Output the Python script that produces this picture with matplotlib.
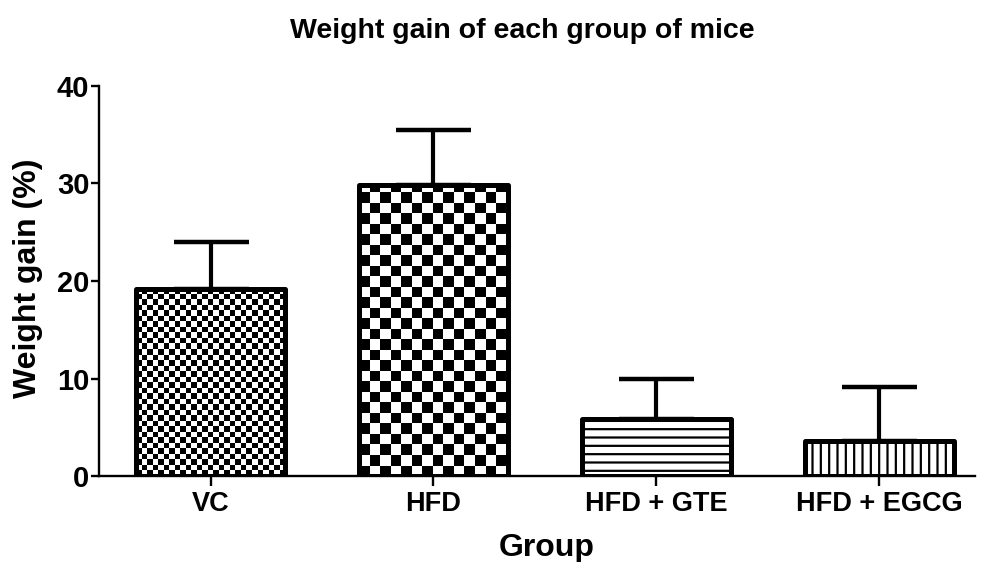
import numpy as np
import matplotlib
matplotlib.use("Agg")
import matplotlib.pyplot as plt

groups = ["VC", "HFD", "HFD + GTE", "HFD + EGCG"]
mean_gain = [19.2, 29.8, 5.8, 3.6]
sem_gain = [4.8, 5.7, 4.2, 5.5]
y_ticks = [0, 10, 20, 30, 40]

plt.rcParams["font.family"] = ["Liberation Sans", "DejaVu Sans"]
plt.rcParams["font.weight"] = "bold"
plt.rcParams["hatch.linewidth"] = 1.6

fig = plt.figure(figsize=(9.81, 5.62), dpi=100)
ax = fig.add_axes([0.101, 0.153, 0.893, 0.694])

x = np.arange(len(groups))
ax.set_xlim(-0.50, 3.43)
ax.set_ylim(0, 40)

bar_w = 0.67
edge_lw = 3.6

# white base bars
base = ax.bar(x, mean_gain, width=bar_w, color="white", edgecolor="none", zorder=2)


def checker_fill(bar, cell_px):
    x0, y0 = bar.get_x(), bar.get_y()
    w, h = bar.get_width(), bar.get_height()
    p0 = ax.transData.transform((x0, y0))
    p1 = ax.transData.transform((x0 + w, y0 + h))
    nx = int(np.ceil((p1[0] - p0[0]) / cell_px))
    ny = int(np.ceil((p1[1] - p0[1]) / cell_px))
    board = np.add.outer(np.arange(ny), np.arange(nx)) % 2
    top_right = ax.transData.inverted().transform(
        (p0[0] + nx * cell_px, p0[1] + ny * cell_px))
    im = ax.imshow(board, cmap="gray", vmin=0, vmax=1,
                   extent=(x0, top_right[0], y0, top_right[1]),
                   origin="lower", interpolation="nearest",
                   aspect="auto", zorder=2.5)
    im.set_clip_path(bar)


checker_fill(base[0], 5.5)
checker_fill(base[1], 10.5)

# line-hatched bars
ax.bar(x[2], mean_gain[2], width=bar_w, color="white", edgecolor="black",
       hatch="--", linewidth=0, zorder=2.6)
ax.bar(x[3], mean_gain[3], width=bar_w, color="white", edgecolor="black",
       hatch="||", linewidth=0, zorder=2.6)

# outlines
outlines = ax.bar(x, mean_gain, width=bar_w, color="none", edgecolor="black",
                  linewidth=edge_lw, zorder=3)
for p in outlines:
    p.set_joinstyle("round")

# upper error bars
ax.errorbar(x, mean_gain, yerr=[np.zeros(len(x)), sem_gain], fmt="none",
            ecolor="black", elinewidth=3.0, capsize=27, capthick=3.2, zorder=1.5)

ax.set_xlim(-0.50, 3.43)
ax.set_ylim(0, 40)

for side in ["top", "right"]:
    ax.spines[side].set_visible(False)
ax.spines["left"].set_linewidth(1.7)
ax.spines["bottom"].set_linewidth(1.7)

ax.set_yticks(y_ticks)
ax.set_xticks(x)
ax.set_xticklabels(groups)
ax.tick_params(axis="y", length=6, width=1.7, labelsize=21, pad=1)
ax.tick_params(axis="x", length=7, width=1.7, labelsize=19.5, pad=4)
for lbl in ax.get_xticklabels() + ax.get_yticklabels():
    lbl.set_fontweight("bold")

ax.set_ylabel("Weight gain (%)", fontsize=23, fontweight="bold", va="center")
ax.yaxis.set_label_coords(-0.081, 0.508)
ax.set_xlabel("Group", fontsize=23, fontweight="bold", va="center")
ax.xaxis.set_label_coords(0.511, -0.185)
fig.text(0.532, 0.944, "Weight gain of each group of mice", ha="center",
         va="center", fontsize=20.5, fontweight="bold")

fig.savefig("out.png", dpi=100)
